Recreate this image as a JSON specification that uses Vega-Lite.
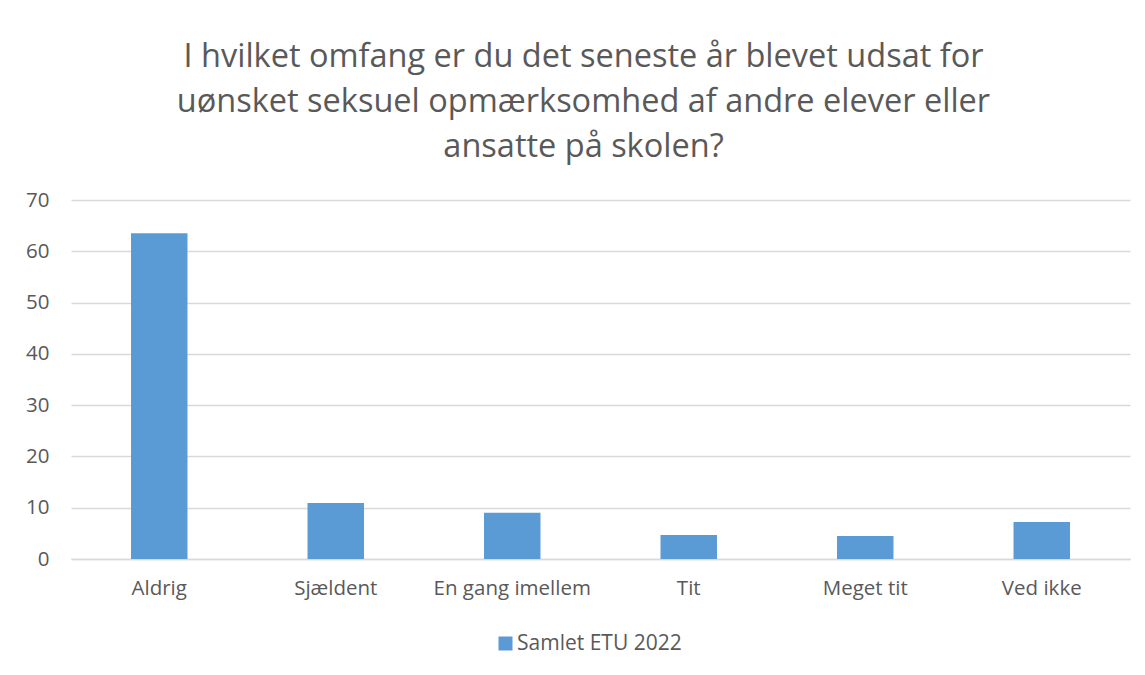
{
  "$schema": "https://vega.github.io/schema/vega-lite/v6.json",
  "autosize": "none",
  "width": 1059,
  "height": 359,
  "padding": {"left": 71, "top": 200, "right": 15, "bottom": 116},
  "background": "white",
  "title": {
    "text": ["I hvilket omfang er du det seneste år blevet udsat for", "uønsket seksuel opmærksomhed af andre elever eller", "ansatte på skolen?"],
    "font": "Open Sans",
    "fontSize": 32.5,
    "fontWeight": "normal",
    "color": "#595959",
    "lineHeight": 45,
    "anchor": "middle",
    "dx": -17,
    "offset": 27
  },
  "data": {
    "values": [
      {"kategori": "Aldrig", "værdi": 63.5, "serie": "Samlet ETU 2022"},
      {"kategori": "Sjældent", "værdi": 10.9, "serie": "Samlet ETU 2022"},
      {"kategori": "En gang imellem", "værdi": 9.0, "serie": "Samlet ETU 2022"},
      {"kategori": "Tit", "værdi": 4.7, "serie": "Samlet ETU 2022"},
      {"kategori": "Meget tit", "værdi": 4.5, "serie": "Samlet ETU 2022"},
      {"kategori": "Ved ikke", "værdi": 7.2, "serie": "Samlet ETU 2022"}
    ]
  },
  "mark": {"type": "bar"},
  "encoding": {
    "x": {
      "field": "kategori",
      "type": "nominal",
      "sort": null,
      "title": null,
      "scale": {"paddingInner": 0.68, "paddingOuter": 0.34},
      "axis": {
        "labelAngle": 0,
        "labelFont": "Open Sans",
        "labelFontSize": 20.5,
        "labelColor": "#595959",
        "labelPadding": 19,
        "ticks": false,
        "domainColor": "#d9d9d9",
        "domainWidth": 1.5
      }
    },
    "y": {
      "field": "værdi",
      "type": "quantitative",
      "title": null,
      "scale": {"domain": [0, 70], "nice": false},
      "axis": {
        "values": [0, 10, 20, 30, 40, 50, 60, 70],
        "labelFont": "Open Sans",
        "labelFontSize": 20.5,
        "labelColor": "#595959",
        "labelPadding": 22,
        "ticks": false,
        "domain": false,
        "gridColor": "#d9d9d9",
        "gridWidth": 1.5
      }
    },
    "color": {
      "field": "serie",
      "type": "nominal",
      "scale": {"range": ["#5b9bd5"]},
      "legend": {
        "title": null,
        "orient": "none",
        "legendX": 424,
        "legendY": 433,
        "direction": "horizontal",
        "symbolType": "square",
        "symbolSize": 196,
        "symbolOpacity": 1,
        "labelFont": "Open Sans",
        "labelFontSize": 21,
        "labelColor": "#595959",
        "labelOffset": 1,
        "labelLimit": 400
      }
    }
  },
  "config": {
    "view": {"stroke": null}
  }
}
